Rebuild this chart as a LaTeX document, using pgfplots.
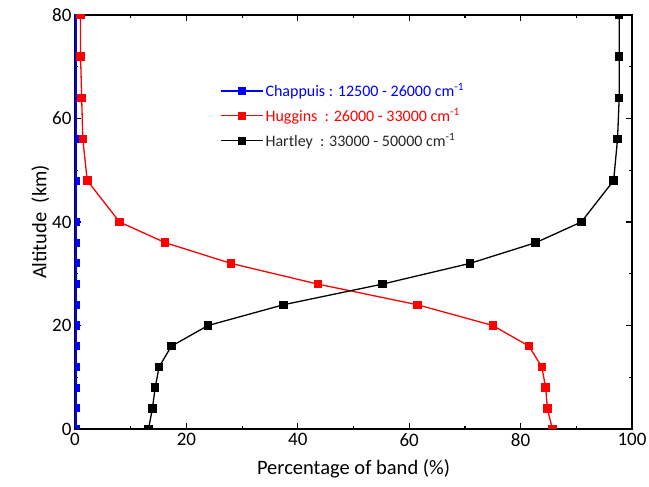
\documentclass[border=0pt]{standalone}
\usepackage{pgfplots}
\pgfplotsset{compat=1.18}
\usepackage{fontspec}
\setmainfont{Carlito}
\definecolor{cblue}{RGB}{0,0,255}
\definecolor{cred}{RGB}{255,0,0}
\definecolor{cblk}{RGB}{0,0,0}
\begin{document}
\begin{tikzpicture}
\begin{axis}[
  name=ax,
  scale only axis,
  width=557pt, height=414pt,
  xmin=0, xmax=100, ymin=0, ymax=80,
  xtick={0,20,...,100}, ytick={0,20,...,80},
  minor x tick num=1, minor y tick num=1,
  tick align=inside,
  major tick length=6pt, minor tick length=3pt,
  tick style={black, line width=1.2pt},
  axis line style={line width=1.5pt},
  every axis plot/.append style={line width=1.3pt},
  /pgf/number format/assume math mode=true,
  ticklabel style={font=\fontsize{19}{22}\selectfont},
  xticklabel style={yshift=-1pt},
  xlabel={Percentage of band (\%)},
  ylabel={Altitude\ \ (km)},
  label style={font=\fontsize{20.5}{24}\selectfont},
  xlabel style={yshift=-6pt},
  ylabel style={yshift=-4pt},
  clip marker paths=true,
  legend style={at={(rel axis cs:0.255,0.845)}, anchor=north west, draw=none, fill=none,
    font=\fontsize{16}{19}\selectfont, row sep=6pt},
  legend cell align=left,
  legend image code/.code={\draw[mark repeat=2,mark phase=2,#1] plot coordinates {(0pt,0pt) (21pt,0pt) (42pt,0pt)};},
]
\addplot[cblue, mark=square*, mark size=3.4pt] coordinates {
(0.2,0) (0.2,4) (0.2,8) (0.2,12) (0.2,16) (0.2,20) (0.2,24) (0.2,28) (0.2,32) (0.2,36) (0.2,40) (0.2,48) (0.2,56) (0.2,64) (0.2,72) (0.2,80)};
\addlegendentry{\textcolor{cblue}{Chappuis : 12500 - 26000 cm\textsuperscript{-1}}}
\addplot[cred, mark=square*, mark size=3.6pt] coordinates {
(85.7,0) (84.8,4) (84.5,8) (83.8,12) (81.5,16) (75.0,20) (61.5,24) (43.6,28) (28.0,32) (16.2,36) (8.0,40) (2.2,48) (1.4,56) (1.2,64) (1.0,72) (1.0,80)};
\addlegendentry{\textcolor{cred}{Huggins\ \ : 26000 - 33000 cm\textsuperscript{-1}}}
\addplot[cblk, mark=square*, mark size=3.6pt] coordinates {
(13.2,0) (13.9,4) (14.4,8) (15.1,12) (17.3,16) (23.9,20) (37.4,24) (55.2,28) (70.9,32) (82.7,36) (90.9,40) (96.7,48) (97.4,56) (97.7,64) (97.7,72) (97.7,80)};
\addlegendentry{\textcolor{black!85}{Hartley\ \ : 33000 - 50000 cm\textsuperscript{-1}}}
\end{axis}
\pgfresetboundingbox
\path ([shift={(-75pt,-58pt)}]ax.south west) rectangle ([shift={(17pt,15pt)}]ax.north east);
\end{tikzpicture}
\end{document}
